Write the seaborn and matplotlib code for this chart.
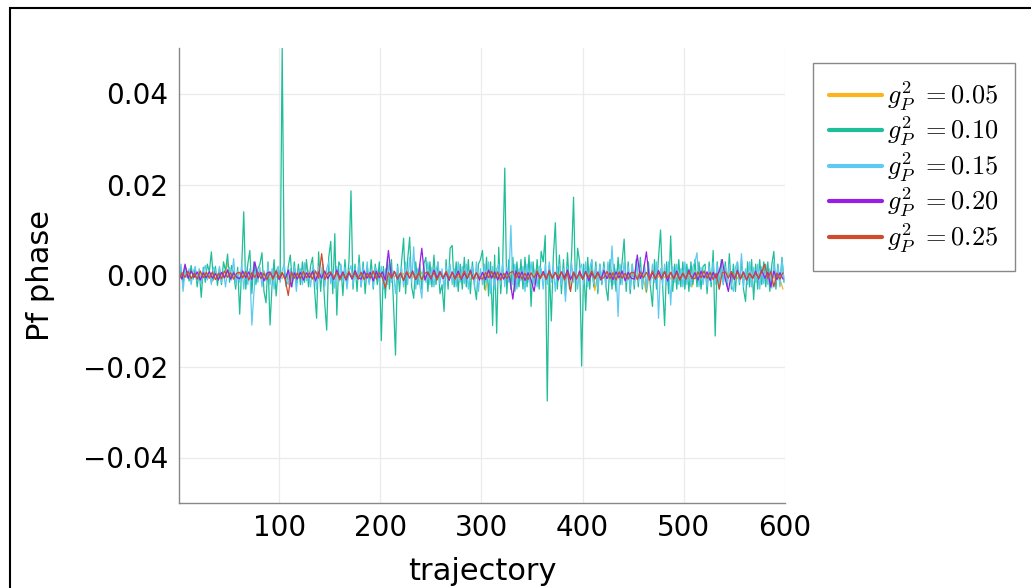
import numpy as np
import matplotlib
matplotlib.use("Agg")
import matplotlib.pyplot as plt
import seaborn as sns
from matplotlib.patches import Rectangle

# ---------------- data (values in units of 1e-4) ----------------
labels = [r"$g_P^2\ = 0.05$", r"$g_P^2\ = 0.10$", r"$g_P^2\ = 0.15$",
          r"$g_P^2\ = 0.20$", r"$g_P^2\ = 0.25$"]
colors = ["#FDB31E", "#1DBE98", "#5FC9F2", "#9A1DE3", "#D14A2B"]

x_fine = list(range(1, 600, 2))    # trajectories for g=0.10, 0.15
x_coarse = list(range(1, 600, 3))  # trajectories for g=0.05, 0.20, 0.25

green = [
    -5, 12, -18, 20, 8, -12, 22, -8, 15, -25,
    10, -48, 18, -15, 25, 8, 52, -10, 20, -22,
    15, -20, 30, 10, 47, -15, 22, 5, -30, 18,
    -85, 20, 140, -30, 25, 55, -40, 30, -20, 15,
    25, 50, -35, -60, 30, -109, -20, 35, -45, 15,
    -10, 500, 10, -25, 20, 45, -15, 30, -20, 25,
    -20, 30, -15, 35, -25, 20, 40, -30, -94, 52,
    -35, 25, -60, -120, 40, 75, -40, 92, -87, 30,
    20, -44, 35, -20, 30, 186, -30, 25, -35, 45,
    -25, 30, -40, 20, -15, 35, -30, 25, -20, 30,
    -143, 20, -50, 40, -30, 35, -60, -175, 25, -35,
    30, 82, -40, 35, 84, -25, -50, 30, -20, 25,
    -30, 25, 40, -35, 30, -25, 45, -20, 30, -40,
    -20, -79, 35, -30, 60, 66, -25, 30, -35, 25,
    -30, 40, -25, 35, -40, 30, -20, -53, 25, 35,
    55, -30, 40, -45, 30, -110, 45, -127, 62, -40,
    30, 236, -40, 35, -30, 40, -35, 30, -25, 35,
    -30, 40, -25, 45, -68, 30, -20, 35, -30, 53,
    30, 88, -276, 20, -100, 40, 116, -30, 45, -40,
    35, -45, 50, -30, 40, 172, -35, 60, 30, -199,
    25, -77, 40, -30, 35, -25, 30, -40, 25, -20,
    30, -25, -55, 35, -30, 25, -35, 40, -20, 30,
    80, -35, 30, -40, 25, -30, 35, -25, 40, -30,
    25, -35, 30, -25, -68, 35, -30, 40, 100, -20,
    -110, 30, -40, 87, -35, 25, -30, 35, -25, 30,
    -30, 25, -35, 30, -20, 35, -25, 30, -30, 20,
    25, -40, 30, -25, 55, -133, 30, -25, 35, -20,
    30, -25, 48, -30, 25, -35, 30, -20, 35, -30,
    -57, 30, -25, 35, -53, 25, -30, 35, -20, 30,
    -25, 30, -35, 25, 53, -30, 25, -20, 40, -15,
]

blue = [
    -10, 25, -35, 10, -5, 15, -20, 8, 20, -12,
    15, -18, 10, 22, -10, 5, -20, 18, 12, -8,
    20, -15, 8, -25, 12, 18, -10, 37, -20, 10,
    -15, 25, -30, 20, -20, 15, -109, -40, 20, -15,
    18, -25, 10, -12, 22, -20, 15, -30, 10, 20,
    -15, 12, 25, -10, -20, 15, -25, 20, -35, 10,
    15, -20, 28, -12, 10, -25, 18, 12, -30, 20,
    -10, 22, -25, 15, 30, -18, 12, -28, 20, -15,
    25, -12, 18, -30, 10, 22, -20, 15, -10, 28,
    -25, 20, -15, 30, -20, 12, -25, 18, 10, -15,
    20, -30, 15, -20, 25, -15, 10, -40, 20, -12,
    18, -25, 30, -20, 40, -15, 63, -30, 15, -20,
    -50, 25, -15, 30, -20, 18, -25, 12, 28, -18,
    15, -30, 20, -12, 25, -20, 15, -25, 30, -15,
    20, -18, 25, -30, 12, 20, -25, 30, -35, 15,
    -20, 25, -15, 30, -40, 20, -30, 15, 25, -20,
    30, -25, 18, -15, 110, -20, 25, -30, 15, -12,
    20, -35, 25, -15, 30, -20, 12, -25, 20, 15,
    -30, 25, -20, 30, -15, 20, -35, 18, 25, -20,
    15, -57, 20, -25, 30, -15, 22, -30, 15, 25,
    -20, 30, -25, 15, 35, -18, 20, -30, 25, -15,
    20, -25, 30, -15, 65, -20, 15, -90, 25, -20,
    30, -15, 20, -30, 25, -20, 35, -15, 18, -25,
    20, -30, 15, -20, 25, -15, 30, -94, 15, -20,
    25, -20, 30, -65, 20, -15, 25, -20, 15, -25,
    30, -20, 15, -25, 20, 30, 50, -25, 18, -20,
    15, -25, 20, -15, 30, -20, 25, -30, 15, -18,
    20, -15, 25, -20, -35, 18, 30, -15, 48, -25,
    15, -20, 30, -25, 18, -15, 25, -30, 20, -18,
    25, -20, 15, -28, 30, -15, 20, -25, 35, -10,
]

orange = [
    -8, 5, -3, 10, -6, 4, -10, 7, -4, 6,
    3, -13, 8, -5, 6, -8, 28, -4, 7, -6,
    5, -7, 9, -3, 6, -8, 4, -5, 10, -6,
    -15, 6, -4, 8, -7, 5, -9, 6, -3, 7,
    -5, 8, 27, -6, 4, -8, 6, -4, 9, -7,
    5, -6, 8, -4, 7, -9, 5, -3, 6, -8,
    7, -5, 4, -8, 6, -4, 9, -6, 5, -7,
    6, -4, 8, -7, 5, -9, 7, -5, 4, -6,
    8, -6, 5, -4, 7, -8, 6, -5, 9, -4,
    -6, 7, -5, 8, -4, 6, -9, 5, -7, 4,
    6, -33, 7, -5, 8, -6, 4, -8, 6, -4,
    7, -5, 9, -6, 4, -8, 5, -7, 6, -4,
    8, -6, 5, -9, 7, -4, 6, -5, 8, -7,
    5, -6, 7, -4, 9, -8, 6, -33, 5, -7,
    6, -5, 25, -7, 4, -8, 6, -5, 7, -6,
    8, -4, 6, -7, -38, 5, -6, 8, -4, 7,
    -5, 6, -8, 5, -7, 9, -4, 6, -6, -25,
    7, -5, 8, -6, 4, -7, 6, -5, 9, -4,
    -6, 7, -5, 8, -7, 5, -4, 6, -8, 5,
    -7, 6, -5, 8, -4, 7, -6, 5, -8, -30,
]

purple = [
    5, -8, 25, -6, 10, -4, 8, -10, 6, -5,
    9, -6, 4, -10, 7, -5, 12, -8, 6, -4,
    -7, 10, -5, 8, -9, 30, -6, 7, -12, 5,
    8, -6, 10, -9, 5, -7, 12, -25, 6, -8,
    7, -10, 6, -5, 9, -12, 8, -6, 10, -7,
    5, -9, 12, -6, 8, -10, 6, -8, 11, -5,
    -8, 10, -6, 7, -12, 9, -5, 8, -10, 55,
    -6, 9, -8, 5, -11, 7, -6, 10, -9, 6,
    60, -10, 7, -8, 12, -5, 9, -7, 6, -11,
    8, -6, 10, -9, 5, -7, 11, -8, 6, -10,
    7, -9, 12, -6, 8, -10, 5, -8, 9, -7,
    -52, 10, -6, 8, -11, 6, -9, -35, 7, -6,
    9, -8, 11, -6, 7, -10, 8, -5, 12, -9,
    6, -8, 10, -7, 9, -11, 5, -6, 8, -10,
    11, -7, 6, -9, 8, -5, 10, -12, 7, -6,
    -8, 45, -7, 9, 52, -10, 6, -8, 11, -6,
    8, -12, 7, -6, 10, -9, 5, -8, 12, -7,
    6, -10, 9, -5, 8, -11, 7, -6, 10, 35,
    -8, -35, 6, -9, 11, -7, 8, -10, 5, -6,
    9, -8, 12, -6, 7, -25, 10, -9, 6, -8,
]

red = [
    -10, 6, -4, 9, -7, 5, -8, 10, -5, 7,
    -6, 8, -9, 5, -7, 10, -4, 6, -8, 5,
    7, -5, 9, -10, 6, -4, 8, -7, 5, -9,
    6, -8, 10, -5, 7, -9, -44, 8, -6, 5,
    -7, 9, -5, 6, -8, 10, -6, 48, -9, 5,
    8, -6, 7, -10, 5, -7, 9, -5, 6, -8,
    7, -9, 5, -6, 10, -8, 6, -4, -28, 7,
    -5, 8, -7, 6, -10, 9, -5, 7, -8, 6,
    -9, 5, 8, -6, 7, -10, 6, -5, 9, -7,
    6, -8, 5, -7, 10, -6, 8, -9, 5, -4,
    -8, 7, -5, 9, -6, 8, -10, 5, -7, 6,
    9, -6, 7, -8, 5, -9, 6, -5, 10, -7,
    5, -8, 9, -6, 7, -5, 8, -10, 6, -35,
    8, -6, 5, -9, 7, -4, 10, -8, 6, -7,
    -5, 9, -7, 6, -10, 8, -6, 5, -8, 7,
    6, -9, 8, -5, 7, -7, 10, -6, 5, -8,
    9, -5, 7, -8, 6, -10, 5, -7, 8, -6,
    -7, 8, -5, 10, -6, 7, -9, 5, -30, 6,
    8, -6, 9, -5, 7, -8, 6, -10, 5, -7,
    6, -5, 8, 25, -7, 9, -25, 5, -8, 6,
]

xticks = [100, 200, 300, 400, 500, 600]
yticks = [-0.04, -0.02, 0.00, 0.02, 0.04]
ytick_labels = ["\u22120.04", "\u22120.02", "0.00", "0.02", "0.04"]

# ---------------- plot ----------------
sns.set_style("white")
plt.rcParams["font.family"] = ["DejaVu Sans"]
plt.rcParams["mathtext.fontset"] = "cm"
plt.rcParams["text.color"] = "black"
plt.rcParams["axes.labelcolor"] = "black"
plt.rcParams["xtick.color"] = "black"
plt.rcParams["ytick.color"] = "black"

fig = plt.figure(figsize=(10.31, 5.88), dpi=100)
ax = fig.add_axes([179 / 1031, 1 - 503 / 588, (785 - 179) / 1031, (503 - 48) / 588])

series = [(x_coarse, orange), (x_fine, green), (x_fine, blue),
          (x_coarse, purple), (x_coarse, red)]
for (xs, ys), lab, col in zip(series, labels, colors):
    sns.lineplot(x=xs, y=np.array(ys) * 1e-4, ax=ax, color=col, label=lab,
                 linewidth=0.9, estimator=None, sort=False)

ax.set_xlim(1, 600)
ax.set_ylim(-0.05, 0.05)
ax.set_xticks(xticks)
ax.set_xticklabels([str(v) for v in xticks])
ax.set_yticks(yticks)
ax.set_yticklabels(ytick_labels)
ax.tick_params(axis="both", labelsize=20, direction="in", length=3,
               width=0.8, pad=8, labelcolor="black")
ax.tick_params(axis="both", color="#777777")
ax.grid(True, color="#ebebeb", linewidth=0.9)
for s in ["top", "right"]:
    ax.spines[s].set_visible(False)
for s in ["left", "bottom"]:
    ax.spines[s].set_color("#888888")
    ax.spines[s].set_linewidth(1.0)

ax.set_ylabel("Pf phase", fontsize=22, labelpad=20, color="black")
ax.set_xlabel("trajectory", fontsize=22, labelpad=11, color="black")

leg = ax.legend(loc="upper left", bbox_to_anchor=(813 / 1031, 1 - 63 / 588),
                bbox_transform=fig.transFigure, borderaxespad=0,
                fontsize=19, frameon=True, fancybox=False, framealpha=1,
                edgecolor="#888888", handlelength=2.0, handletextpad=0.2,
                labelspacing=0.08, borderpad=0.62)
leg.get_frame().set_linewidth(1.0)
for h in leg.legend_handles:
    h.set_linewidth(3)
for t in leg.get_texts():
    t.set_color("black")

# outer black frame (partly cut off at the right and bottom)
fig.patches.append(Rectangle((10 / 1031, -0.05), 1.05, 1 - 8 / 588 + 0.05,
                             transform=fig.transFigure, fill=False,
                             edgecolor="black", linewidth=1.5, zorder=10))

fig.savefig("out.png", dpi=100)
